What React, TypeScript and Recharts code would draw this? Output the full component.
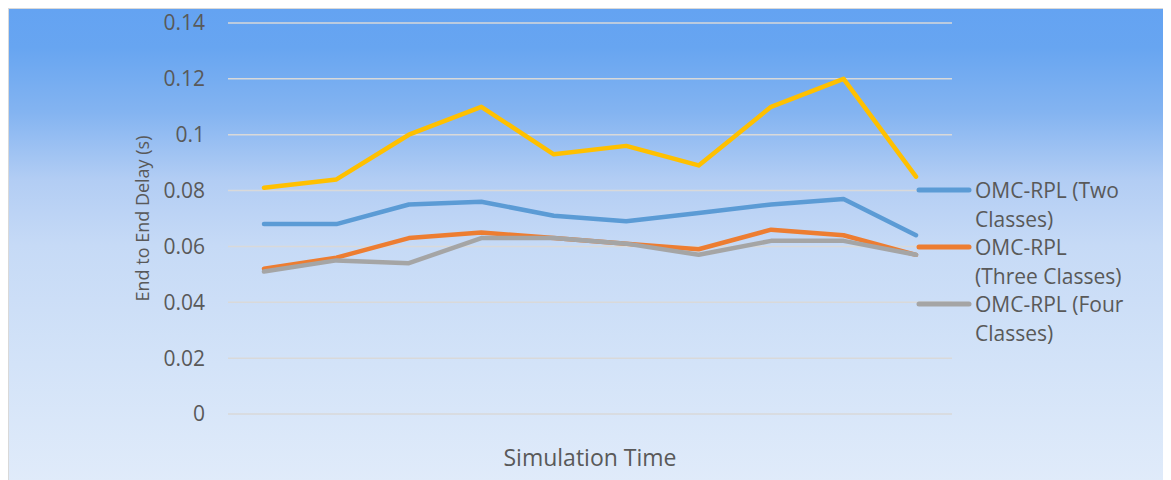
import { LineChart, Line, XAxis, YAxis, CartesianGrid, Legend } from "recharts";

// simulation time steps (axis carries no tick labels)
const steps = ["t1", "t2", "t3", "t4", "t5", "t6", "t7", "t8", "t9", "t10"];

// end-to-end delay in seconds
const delayTwo = [0.068, 0.068, 0.075, 0.076, 0.071, 0.069, 0.072, 0.075, 0.077, 0.064];
const delayThree = [0.052, 0.056, 0.063, 0.065, 0.063, 0.061, 0.059, 0.066, 0.064, 0.057];
const delayFour = [0.051, 0.055, 0.054, 0.063, 0.063, 0.061, 0.057, 0.062, 0.062, 0.057];
const delayOther = [0.081, 0.084, 0.1, 0.11, 0.093, 0.096, 0.089, 0.11, 0.12, 0.085];

const yTicks = [0, 0.02, 0.04, 0.06, 0.08, 0.1, 0.12, 0.14];
const yTickLabels = ["0", "0.02", "0.04", "0.06", "0.08", "0.1", "0.12", "0.14"];

const legendOrder = ["two", "three", "four"];
const legendLines: Record<string, string[]> = {
  two: ["OMC-RPL (Two", "Classes)"],
  three: ["OMC-RPL", "(Three Classes)"],
  four: ["OMC-RPL (Four", "Classes)"],
};

const data = steps.map((t, i) => ({
  t,
  two: delayTwo[i],
  three: delayThree[i],
  four: delayFour[i],
  other: delayOther[i],
}));

const TEXT = "#595959";
const FONT = "'Open Sans', 'Noto Sans', sans-serif";

function LegendContent({ payload }: any) {
  const items = legendOrder
    .map((k) => (payload || []).find((p: any) => p.dataKey === k))
    .filter(Boolean);
  return (
    <div style={{ fontSize: 21, lineHeight: "28.5px", color: TEXT }}>
      {items.map((p: any) => (
        <div key={p.dataKey} style={{ display: "flex", alignItems: "flex-start" }}>
          <svg width={59} height={28} style={{ flex: "none" }}>
            <line x1={3} x2={53} y1={14} y2={14} stroke={p.color} strokeWidth={5} strokeLinecap="round" />
          </svg>
          <div>
            {legendLines[p.dataKey].map((l) => (
              <div key={l} style={{ whiteSpace: "nowrap" }}>{l}</div>
            ))}
          </div>
        </div>
      ))}
    </div>
  );
}

export default function App() {
  return (
    <div
      style={{
        width: 1164,
        height: 473,
        marginLeft: -1,
        marginTop: -1,
        borderTop: "2px solid #d9d9d9",
        borderLeft: "2px solid #d9d9d9",
        background:
          "linear-gradient(to bottom, #64a3f2 0%, #67a5f1 8%, #84b4f1 22%, #b2cdf4 36%, #c6daf6 50%, #d3e3f8 75%, #e0ebfa 100%)",
        fontFamily: FONT,
      }}
    >
      <LineChart width={1162} height={471} data={data} margin={{ top: 14, right: 219, bottom: 0, left: 0 }}>
        <CartesianGrid horizontal vertical={false} stroke="#d9d9d9" strokeWidth={1.5} />
        <XAxis
          dataKey="t"
          tick={false}
          axisLine={false}
          tickLine={false}
          height={66}
          padding={{ left: 36, right: 36 }}
          label={{ value: "Simulation Time", position: "insideBottom", offset: 14, fill: TEXT, fontSize: 23 }}
        />
        <YAxis
          width={219}
          domain={[0, 0.14]}
          ticks={yTicks}
          interval={0}
          axisLine={false}
          tickLine={false}
          tickSize={0}
          tickMargin={23}
          tickFormatter={(v: number) => yTickLabels[yTicks.indexOf(v)] ?? String(v)}
          tick={{ fontSize: 21, fill: TEXT }}
          label={{ value: "End to End Delay (s)", angle: -90, position: "center", dx: 24, fill: TEXT, fontSize: 18 }}
        />
        <Legend
          layout="vertical"
          align="center"
          verticalAlign="middle"
          width={255}
          wrapperStyle={{ left: 907, top: 167 }}
          content={<LegendContent />}
        />
        <Line dataKey="other" name="Other" stroke="#ffc000" strokeWidth={4.5} dot={false} legendType="none" isAnimationActive={false} strokeLinejoin="round" strokeLinecap="round" />
        <Line dataKey="two" name="OMC-RPL (Two Classes)" stroke="#5b9bd5" strokeWidth={4.5} dot={false} isAnimationActive={false} strokeLinejoin="round" strokeLinecap="round" />
        <Line dataKey="three" name="OMC-RPL (Three Classes)" stroke="#ed7d31" strokeWidth={4.5} dot={false} isAnimationActive={false} strokeLinejoin="round" strokeLinecap="round" />
        <Line dataKey="four" name="OMC-RPL (Four Classes)" stroke="#a5a5a5" strokeWidth={4.5} dot={false} isAnimationActive={false} strokeLinejoin="round" strokeLinecap="round" />
      </LineChart>
    </div>
  );
}
